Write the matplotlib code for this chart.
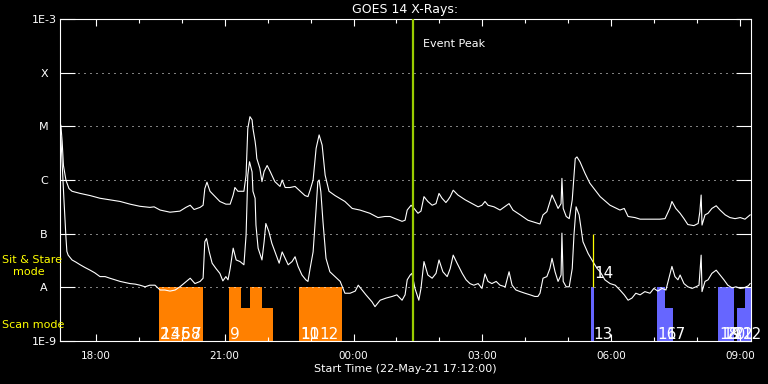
import matplotlib
matplotlib.use('Agg')
import matplotlib.pyplot as plt
from matplotlib.ticker import FixedLocator, NullLocator, MultipleLocator

# time in hours from 00:00 22-May-21 (past 24 = next day), flux as log10(W/m^2)
long_t = [17.19, 17.22, 17.25, 17.31, 17.38, 17.45, 17.64, 17.87,
          18.10, 18.33, 18.57, 18.80, 19.03, 19.26, 19.36, 19.50,
          19.73, 19.96, 20.10, 20.20, 20.29, 20.43, 20.50, 20.54,
          20.59, 20.66, 20.78, 20.89, 21.03, 21.13, 21.20, 21.24,
          21.31, 21.45, 21.50, 21.54, 21.59, 21.64, 21.66, 21.71,
          21.73, 21.75, 21.82, 21.87, 21.92, 21.99, 22.06, 22.17,
          22.29, 22.34, 22.41, 22.52, 22.64, 22.76, 22.87, 22.94,
          22.99, 23.06, 23.13, 23.20, 23.27, 23.34, 23.43, 23.57,
          23.80, 23.97, 24.15, 24.38, 24.57, 24.73, 24.85, 24.97,
          25.13, 25.20, 25.25, 25.34, 25.41, 25.50, 25.57, 25.64,
          25.73, 25.83, 25.92, 25.99, 26.06, 26.15, 26.20, 26.25,
          26.32, 26.43, 26.60, 26.76, 26.90, 26.99, 27.06, 27.13,
          27.27, 27.41, 27.62, 27.71, 27.88, 28.06, 28.22, 28.34,
          28.41, 28.50, 28.62, 28.69, 28.76, 28.83, 28.85, 28.88,
          28.95, 29.02, 29.09, 29.16, 29.20, 29.27, 29.39, 29.50,
          29.74, 29.97, 30.20, 30.30, 30.39, 30.55, 30.67, 30.90,
          31.13, 31.25, 31.36, 31.41, 31.50, 31.60, 31.69, 31.78,
          31.92, 32.02, 32.06, 32.09, 32.11, 32.18, 32.25, 32.34,
          32.44, 32.53, 32.65, 32.76, 32.88, 33.00, 33.11, 33.23]
long_logf = [-4.98, -5.28, -5.73, -6.01, -6.16, -6.21, -6.25, -6.29,
             -6.34, -6.37, -6.40, -6.45, -6.49, -6.51, -6.50, -6.56,
             -6.60, -6.58, -6.51, -6.47, -6.55, -6.51, -6.47, -6.16,
             -6.04, -6.21, -6.31, -6.40, -6.45, -6.45, -6.28, -6.14,
             -6.21, -6.21, -5.91, -5.04, -4.82, -4.88, -5.04, -5.28,
             -5.41, -5.60, -5.78, -6.03, -5.84, -5.73, -5.84, -6.03,
             -6.12, -6.00, -6.14, -6.14, -6.12, -6.21, -6.29, -6.31,
             -6.19, -6.00, -5.41, -5.16, -5.35, -5.91, -6.21, -6.29,
             -6.40, -6.53, -6.56, -6.62, -6.70, -6.68, -6.68, -6.72,
             -6.77, -6.75, -6.56, -6.47, -6.53, -6.62, -6.58, -6.31,
             -6.40, -6.47, -6.44, -6.25, -6.34, -6.42, -6.37, -6.31,
             -6.19, -6.28, -6.37, -6.44, -6.50, -6.47, -6.40, -6.47,
             -6.50, -6.56, -6.44, -6.56, -6.65, -6.75, -6.79, -6.82,
             -6.65, -6.59, -6.28, -6.40, -6.53, -6.44, -5.97, -6.53,
             -6.68, -6.72, -6.37, -5.60, -5.57, -5.66, -5.88, -6.06,
             -6.31, -6.47, -6.56, -6.53, -6.68, -6.70, -6.73, -6.73,
             -6.73, -6.72, -6.53, -6.40, -6.53, -6.62, -6.72, -6.83,
             -6.85, -6.81, -6.59, -6.28, -6.84, -6.65, -6.62, -6.53,
             -6.48, -6.56, -6.65, -6.70, -6.72, -6.70, -6.73, -6.65]

short_t = [17.19, 17.26, 17.31, 17.33, 17.36, 17.45, 17.54, 17.64,
           17.75, 17.87, 17.98, 18.10, 18.22, 18.33, 18.45, 18.57,
           18.68, 18.80, 18.92, 19.03, 19.15, 19.26, 19.38, 19.50,
           19.61, 19.73, 19.85, 19.96, 20.08, 20.20, 20.31, 20.43,
           20.50, 20.54, 20.58, 20.64, 20.71, 20.80, 20.89, 20.96,
           21.03, 21.08, 21.13, 21.20, 21.27, 21.36, 21.45, 21.50,
           21.54, 21.58, 21.64, 21.66, 21.71, 21.73, 21.78, 21.87,
           21.92, 21.96, 22.03, 22.10, 22.20, 22.27, 22.34, 22.41,
           22.48, 22.57, 22.64, 22.71, 22.80, 22.89, 22.94, 22.99,
           23.06, 23.13, 23.17, 23.20, 23.24, 23.29, 23.36, 23.45,
           23.57, 23.69, 23.80, 23.92, 24.04, 24.11, 24.20, 24.29,
           24.43, 24.50, 24.62, 24.76, 24.90, 25.01, 25.13, 25.20,
           25.25, 25.32, 25.36, 25.43, 25.52, 25.57, 25.64, 25.73,
           25.83, 25.92, 25.99, 26.08, 26.18, 26.25, 26.32, 26.41,
           26.53, 26.62, 26.71, 26.80, 26.90, 26.99, 27.06, 27.13,
           27.22, 27.32, 27.41, 27.53, 27.62, 27.69, 27.78, 27.88,
           27.99, 28.11, 28.22, 28.29, 28.34, 28.41, 28.50, 28.57,
           28.62, 28.69, 28.76, 28.83, 28.85, 28.88, 28.95, 29.02,
           29.09, 29.13, 29.18, 29.25, 29.34, 29.46, 29.57, 29.67,
           29.74, 29.85, 29.97, 30.09, 30.20, 30.30, 30.39, 30.48,
           30.57, 30.67, 30.78, 30.90, 30.99, 31.08, 31.18, 31.27,
           31.36, 31.41, 31.48, 31.55, 31.60, 31.69, 31.78, 31.88,
           31.97, 32.04, 32.09, 32.11, 32.18, 32.25, 32.34, 32.44,
           32.53, 32.62, 32.71, 32.81, 32.90, 33.00, 33.09, 33.19,
           33.23]
short_logf = [-5.20, -6.34, -7.09, -7.33, -7.40, -7.49, -7.53, -7.58,
              -7.63, -7.68, -7.73, -7.80, -7.80, -7.83, -7.86, -7.89,
              -7.91, -7.93, -7.94, -7.96, -7.99, -7.96, -7.96, -8.05,
              -8.05, -8.07, -8.05, -7.99, -7.91, -7.83, -7.93, -7.89,
              -7.83, -7.15, -7.09, -7.33, -7.55, -7.65, -7.74, -7.88,
              -7.80, -7.86, -7.65, -7.27, -7.49, -7.52, -7.58, -7.03,
              -5.91, -5.66, -5.85, -6.21, -6.34, -6.84, -7.27, -7.49,
              -7.15, -6.81, -6.96, -7.18, -7.40, -7.55, -7.34, -7.46,
              -7.58, -7.52, -7.43, -7.61, -7.77, -7.86, -7.89, -7.65,
              -7.34, -6.53, -6.03, -6.00, -6.22, -6.78, -7.46, -7.71,
              -7.80, -7.89, -8.11, -8.11, -8.07, -7.96, -8.05, -8.14,
              -8.27, -8.36, -8.24, -8.20, -8.17, -8.14, -8.24, -8.14,
              -7.86, -7.77, -7.74, -8.02, -8.24, -8.02, -7.52, -7.77,
              -7.83, -7.74, -7.49, -7.71, -7.80, -7.65, -7.40, -7.55,
              -7.74, -7.86, -7.93, -7.96, -7.93, -8.02, -7.75, -7.89,
              -7.93, -7.89, -7.96, -7.99, -7.71, -7.96, -8.05, -8.08,
              -8.11, -8.14, -8.17, -8.17, -8.11, -7.83, -7.80, -7.65,
              -7.46, -7.71, -7.89, -7.77, -6.99, -7.89, -7.99, -7.99,
              -7.65, -7.03, -6.50, -6.65, -7.15, -7.37, -7.52, -7.65,
              -7.71, -7.86, -7.93, -7.96, -8.05, -8.14, -8.24, -8.20,
              -8.11, -8.14, -8.08, -8.11, -8.02, -8.07, -8.02, -8.05,
              -7.77, -7.61, -7.80, -7.86, -7.77, -7.93, -7.99, -8.02,
              -7.99, -7.96, -7.40, -8.08, -7.89, -7.86, -7.74, -7.68,
              -7.77, -7.86, -7.96, -8.01, -7.99, -8.02, -8.01, -7.97,
              -7.93]

# observation blocks: start, end (hours) and top (log10 flux)
scan_start = [19.47, 21.10, 21.38, 21.59, 21.87, 22.73]
scan_end = [20.50, 21.38, 21.59, 21.87, 22.13, 23.73]
scan_top = [-8.0, -8.0, -8.39, -8.0, -8.39, -8.0]
stare_start = [29.53, 31.06, 31.25, 32.48, 32.93, 33.11]
stare_end = [29.60, 31.25, 31.43, 32.86, 33.11, 33.28]
stare_top = [-8.0, -8.0, -8.39, -8.0, -8.39, -8.0]

obs_labels = ['1', '2', '3', '4', '5', '6', '7', '8', '9', '10', '11', '12',
              '13', '16', '17', '18', '19', '20', '21', '22']
obs_label_t = [19.50, 19.50, 19.73, 19.73, 19.98, 19.98, 20.23, 20.23, 21.13,
               22.77, 22.77, 23.20, 29.57, 31.07, 31.27, 32.51, 32.58,
               32.69, 32.86, 33.06]

goes_classes = ['1E-9', 'A', 'B', 'C', 'M', 'X', '1E-3']
class_flux = [1e-9, 1e-8, 1e-7, 1e-6, 1e-5, 1e-4, 1e-3]
hour_ticks = [18, 21, 24, 27, 30, 33]
hour_labels = ['18:00', '21:00', '00:00', '03:00', '06:00', '09:00']
event_peak = 25.38
stare_mark = 29.57

fig = plt.figure(figsize=(7.68, 3.84), dpi=100, facecolor='black')
ax = fig.add_axes([60/768, 43/384, 691/768, 322/384], facecolor='black')
ax.set_yscale('log')

for s, e, top in zip(scan_start, scan_end, scan_top):
    ax.bar(s, 10**top - 1e-9, width=e - s, bottom=1e-9, align='edge',
           color='#ff8000', linewidth=0, zorder=1)
for s, e, top in zip(stare_start, stare_end, stare_top):
    ax.bar(s, 10**top - 1e-9, width=e - s, bottom=1e-9, align='edge',
           color='#6666ff', linewidth=0, zorder=1)

ax.plot(long_t, [10**v for v in long_logf], color='white', lw=0.8, zorder=3)
ax.plot(short_t, [10**v for v in short_logf], color='white', lw=0.8, zorder=3)

ax.axvline(event_peak, color='#99cc00', lw=1.6, zorder=4)
ax.vlines(stare_mark, 1e-8, 1e-7, color='yellow', lw=0.9, zorder=4)

trans = ax.get_xaxis_transform()
for lab, t in zip(obs_labels, obs_label_t):
    ax.text(t, 0.006, lab, transform=trans, color='white', fontsize=11,
            va='baseline', ha='left', zorder=5)
ax.text(stare_mark + 0.03, 0.196, '14', transform=trans, color='white',
        fontsize=11, va='baseline', ha='left', zorder=5)
ax.text(25.62, 0.913, 'Event Peak', transform=trans, color='white',
        fontsize=8, va='baseline', ha='left')

ax.set_xlim(17.17, 33.25)
ax.set_ylim(1e-9, 1e-3)

ax.yaxis.set_major_locator(FixedLocator(class_flux))
ax.yaxis.set_minor_locator(NullLocator())
ax.set_yticklabels(goes_classes)
for lab in ax.get_yticklabels():
    lab.set_horizontalalignment('center')
ax.tick_params(axis='y', which='major', direction='in', length=10.5,
               width=0.8, colors='white', left=True, right=True,
               pad=11.5, labelsize=8)

ax.xaxis.set_major_locator(FixedLocator(hour_ticks))
ax.xaxis.set_minor_locator(MultipleLocator(1))
ax.set_xticklabels(hour_labels)
ax.tick_params(axis='x', which='major', direction='in', length=5,
               width=0.8, colors='white', top=True, bottom=True,
               pad=7, labelsize=7.5)
ax.tick_params(axis='x', which='minor', direction='in', length=2.6,
               width=0.8, colors='white', top=True, bottom=True)

ax.grid(axis='y', which='major', color='white', lw=0.72,
        linestyle=(0, (1, 5)), zorder=0.5)

for sp in ax.spines.values():
    sp.set_color('white')
    sp.set_linewidth(0.8)

ax.set_title('GOES 14 X-Rays:', color='white', fontsize=9, pad=4)
ax.set_xlabel('Start Time (22-May-21 17:12:00)', color='white',
              fontsize=8, labelpad=2)

fig.text(2/768, (384-263)/384, 'Sit & Stare', color='yellow', fontsize=8,
         va='baseline', ha='left')
fig.text(13/768, (384-275)/384, 'mode', color='yellow', fontsize=8,
         va='baseline', ha='left')
fig.text(2/768, (384-328)/384, 'Scan mode', color='yellow', fontsize=8,
         va='baseline', ha='left')

fig.savefig('out.png', dpi=100, facecolor='black')
